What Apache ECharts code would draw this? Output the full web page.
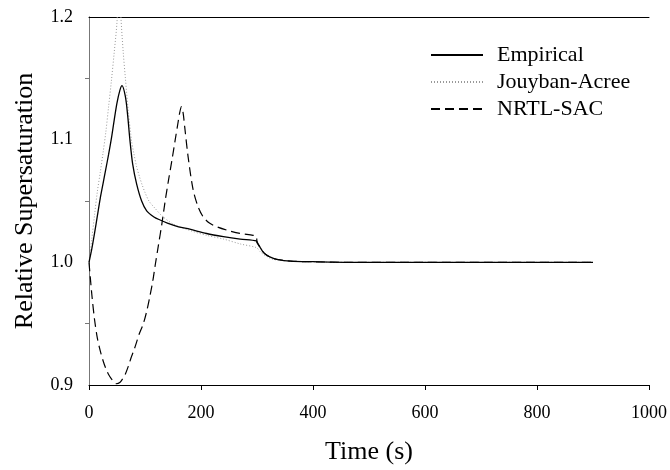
<!DOCTYPE html>
<html>
<head>
<meta charset="utf-8">
<script src="https://cdn.jsdelivr.net/npm/echarts@6/dist/echarts.min.js"></script>
<style>
html,body{margin:0;padding:0;background:#fff;}
#main{width:670px;height:470px;}
</style>
</head>
<body>
<div id="main"></div>
<script>
// Empirical (solid)
var empiricalT = [0,5,10,15,20,25,30,35,40,45,50,55,59,65,69,73,78,85,94,103,116,127,140,160,180,210,240,270,299,300,305,310,317,325,335,360,400,466,600,900];
var empiricalV = [1.000,1.011,1.024,1.038,1.052,1.064,1.076,1.088,1.101,1.116,1.130,1.140,1.144,1.135,1.120,1.100,1.080,1.064,1.050,1.042,1.037,1.0345,1.032,1.029,1.027,1.0235,1.021,1.019,1.0175,1.016,1.0126,1.009,1.006,1.004,1.0025,1.001,1.0005,1.000,1.000,1.000];
// Jouyban-Acree (dotted)
var jouybanT = [0,5,10,15,20,25,30,35,40,45,50,54,57,61,65,70,76,80,85,90,95,100,107,118,130,151,180,210,240,270,299,305,310,317,325,335,360,400,466,600,900];
var jouybanV = [1.000,1.019,1.039,1.058,1.073,1.089,1.106,1.127,1.148,1.171,1.196,1.235,1.200,1.172,1.150,1.124,1.099,1.089,1.078,1.070,1.063,1.057,1.050,1.044,1.038,1.031,1.026,1.022,1.019,1.015,1.012,1.009,1.007,1.005,1.003,1.002,1.001,1.0003,1.000,1.000,1.000];
// NRTL-SAC (dashed)
var nrtlT = [0,5,10,15,20,25,30,35,40,45,49,55,60,65,70,75,80,85,90,97,103,109,114,118,124,130,136,142,148,154,159,162,165,168,171,177,186,195,204,215,228,248,270,293,299,300,305,310,317,325,335,360,400,466,600,900];
var nrtlV = [1.000,0.974,0.953,0.938,0.928,0.920,0.9135,0.9085,0.905,0.9023,0.901,0.902,0.905,0.909,0.915,0.922,0.928,0.935,0.942,0.950,0.960,0.973,0.985,0.997,1.014,1.031,1.050,1.067,1.083,1.100,1.114,1.122,1.127,1.122,1.110,1.086,1.059,1.045,1.037,1.032,1.029,1.026,1.0235,1.022,1.021,1.017,1.0126,1.009,1.006,1.004,1.0025,1.001,1.0005,1.000,1.000,1.000];

var xTicks = [0,200,400,600,800,1000];
var yTicks = [0.9,1.0,1.1,1.2];

function pairs(t, v){ return t.map(function(x,i){ return [x, v[i]]; }); }

var FONT = 'Liberation Serif';
var chart = echarts.init(document.getElementById('main'), null, {renderer:'canvas'});
chart.setOption({
  backgroundColor:'#fff',
  animation:false,
  grid:{left:89, right:21, top:17, bottom:85},
  legend:{
    orient:'vertical', left:425, top:39, itemWidth:52, itemHeight:14, itemGap:5,
    itemStyle:{color:'rgba(0,0,0,0)', borderWidth:0},
    textStyle:{fontFamily:FONT, fontSize:22, color:'#000', lineHeight:22, padding:[0,0,0,9]},
    data:['Empirical','Jouyban-Acree','NRTL-SAC']
  },
  xAxis:[{
    type:'value', min:0, max:1000, interval:200,
    name:'Time (s)', nameLocation:'middle', nameGap:54,
    nameTextStyle:{fontFamily:FONT, fontSize:26, color:'#000'},
    axisLine:{lineStyle:{color:'#000', width:1}},
    axisTick:{show:true, length:5, lineStyle:{color:'#000'}},
    axisLabel:{fontFamily:FONT, fontSize:18, color:'#000', margin:19,
      formatter:function(v){ return xTicks.indexOf(v)>=0 ? String(v) : ''; }},
    splitLine:{show:false}
  },{
    type:'value', position:'top', min:0, max:1000, interval:200,
    axisLine:{show:true, lineStyle:{color:'#000', width:1}},
    axisTick:{show:false}, axisLabel:{show:false}, splitLine:{show:false}
  }],
  yAxis:[{
    type:'value', min:0.9, max:1.2, interval:0.1,
    name:'Relative Supersaturation', nameLocation:'middle', nameGap:51,
    nameTextStyle:{fontFamily:FONT, fontSize:26, color:'#000'},
    axisLine:{show:true, lineStyle:{color:'#777', width:1}},
    axisTick:{show:false},
    minorTick:{show:true, splitNumber:2, length:4, lineStyle:{color:'#777'}},
    axisLabel:{fontFamily:FONT, fontSize:18, color:'#000', margin:16,
      formatter:function(v){ return v.toFixed(1); }},
    splitLine:{show:false}
  },{
    type:'value', position:'right', min:0.9, max:1.2, interval:0.1,
    axisLine:{show:true, lineStyle:{color:'#777', width:1}},
    axisTick:{show:false, inside:true},
    minorTick:{show:true, splitNumber:2, length:4, lineStyle:{color:'#777'}},
    axisLabel:{show:false}, splitLine:{show:false}
  }],
  series:[{
    name:'Empirical', type:'line', symbol:'none', smooth:0.3, clip:true,
    data:pairs(empiricalT, empiricalV),
    lineStyle:{color:'#000', width:1.3, type:'solid'}, itemStyle:{color:'#000'}, z:4
  },{
    name:'Jouyban-Acree', type:'line', symbol:'none', smooth:0.3, clip:true,
    data:pairs(jouybanT, jouybanV),
    lineStyle:{color:'#999', width:1, type:[1,2]}, itemStyle:{color:'#999'}, z:3
  },{
    name:'NRTL-SAC', type:'line', symbol:'none', smooth:0.3, clip:true,
    data:pairs(nrtlT, nrtlV),
    lineStyle:{color:'#000', width:1.2, type:[9,5]}, itemStyle:{color:'#000'}, z:2
  }]
});
</script>
</body>
</html>
